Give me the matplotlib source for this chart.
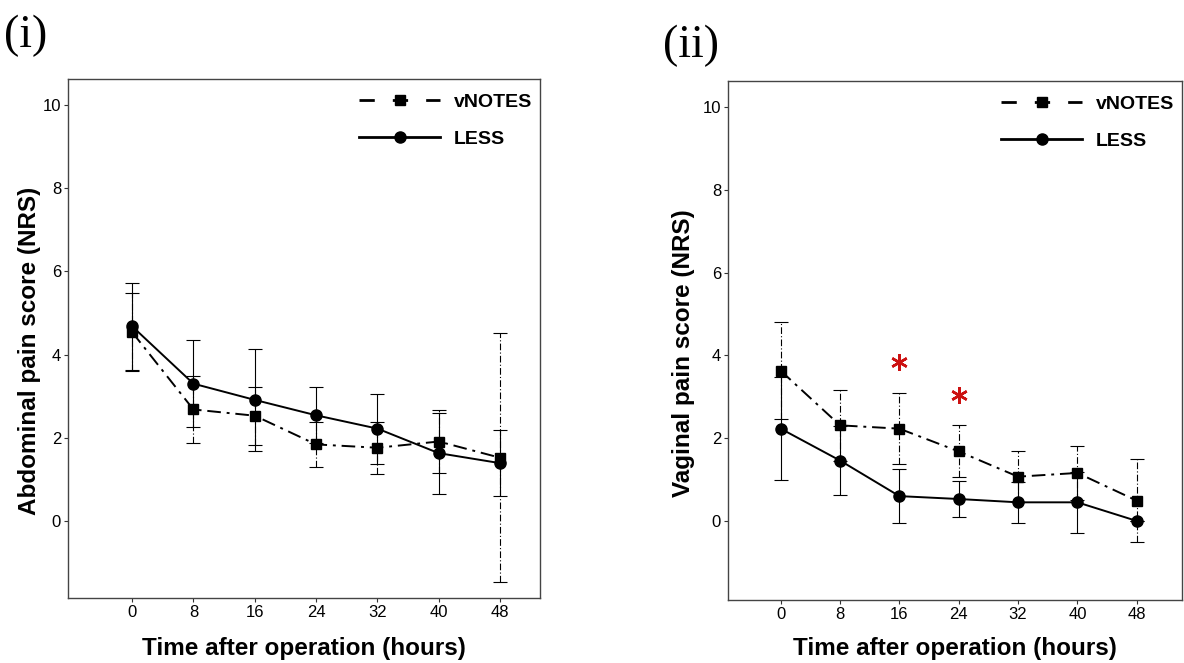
import numpy as np
import matplotlib
matplotlib.use("Agg")
import matplotlib.pyplot as plt
from matplotlib.lines import Line2D

# time points (hours)
hours = [0, 8, 16, 24, 32, 40, 48]

# (i) abdominal pain score, mean and half error bar
abd_vnotes = [4.54, 2.68, 2.53, 1.84, 1.76, 1.91, 1.52]
abd_vnotes_err = [0.94, 0.80, 0.70, 0.54, 0.62, 0.76, 2.99]
abd_less = [4.68, 3.30, 2.91, 2.54, 2.22, 1.63, 1.39]
abd_less_err = [1.05, 1.04, 1.22, 0.67, 0.84, 0.97, 0.79]

# (ii) vaginal pain score
vag_vnotes = [3.63, 2.31, 2.23, 1.68, 1.07, 1.16, 0.49]
vag_vnotes_err = [1.17, 0.85, 0.86, 0.63, 0.62, 0.66, 1.01]
vag_less = [2.23, 1.46, 0.60, 0.53, 0.45, 0.45, 0.00]
vag_less_err = [1.25, 0.84, 0.66, 0.44, 0.49, 0.74, 0.00]

# significant time points in (ii) and height of the star
sig_hours = [16, 24]
sig_y = [3.83, 3.04]

yticks = [0, 2, 4, 6, 8, 10]

plt.rcParams['font.family'] = ['Liberation Sans', 'DejaVu Sans']

fig = plt.figure(figsize=(11.84, 6.63), dpi=100)
ax1 = fig.add_axes([68 / 1184, 1 - 598 / 663, 472 / 1184, 519 / 663])
ax2 = fig.add_axes([728 / 1184, 1 - 600 / 663, 454 / 1184, 519 / 663])

dashdot = (0, (7, 3, 1.5, 3))


def draw_panel(ax, vn, vn_err, ls_, ls_err, ylabel, xlim, ylim, ylab_x, xpad):
    eb = ax.errorbar(hours, vn, yerr=vn_err, color='black', linestyle=dashdot,
                     linewidth=1.4, marker='s', markersize=7.5, capsize=5,
                     elinewidth=0.8, capthick=0.8, zorder=3)
    for bar in eb[2]:
        bar.set_linestyle((0, (6, 2, 1, 2)))
    ax.errorbar(hours, ls_, yerr=ls_err, color='black', linestyle='-',
                linewidth=1.4, marker='o', markersize=8, capsize=5,
                elinewidth=0.8, capthick=0.8, zorder=3)
    ax.set_xlim(*xlim)
    ax.set_ylim(*ylim)
    ax.set_xticks(hours)
    ax.set_yticks(yticks)
    ax.tick_params(labelsize=12, length=3, width=0.8, pad=2,
                   colors='#333333', labelcolor='black')
    for sp in ax.spines.values():
        sp.set_color('#444444')
        sp.set_linewidth(1.0)
    ax.set_xlabel('Time after operation (hours)', fontsize=17.5, fontweight='bold', labelpad=xpad)
    ax.set_ylabel(ylabel, fontsize=17.5, fontweight='bold')
    ax.yaxis.set_label_coords(ylab_x, 0.476)

    handles = [
        Line2D([], [], color='black', linestyle=(0, (5.5, 6.5)), linewidth=2.0,
               marker='s', markersize=7),
        Line2D([], [], color='black', linestyle='-', linewidth=2.0,
               marker='o', markersize=8),
    ]
    leg = ax.legend(handles, ['vNOTES', 'LESS'], loc='upper right', frameon=False,
                    bbox_to_anchor=(1.0, 0.988),
                    handlelength=4.2, fontsize=14, borderaxespad=0.0,
                    labelspacing=1.0, handletextpad=0.7)
    for t in leg.get_texts():
        t.set_fontweight('bold')


draw_panel(ax1, abd_vnotes, abd_vnotes_err, abd_less, abd_less_err,
           'Abdominal pain score (NRS)', (-8.35, 53.2), (-1.85, 10.62), -0.058, 12)
draw_panel(ax2, vag_vnotes, vag_vnotes_err, vag_less, vag_less_err,
           'Vaginal pain score (NRS)', (-7.1, 54.1), (-1.91, 10.63), -0.073, 10.5)

ax2.plot(sig_hours, sig_y, linestyle='none', marker=(6, 2, 0), markersize=12,
         markeredgewidth=1.8, color='#cc1111', zorder=4)

fig.text(4 / 1184, 1 - 36 / 663, '(i)', fontsize=33, family='Liberation Serif', va='center')
fig.text(663 / 1184, 1 - 46 / 663, '(ii)', fontsize=33, family='Liberation Serif', va='center')

fig.savefig('out.png', dpi=100)
plt.close(fig)
